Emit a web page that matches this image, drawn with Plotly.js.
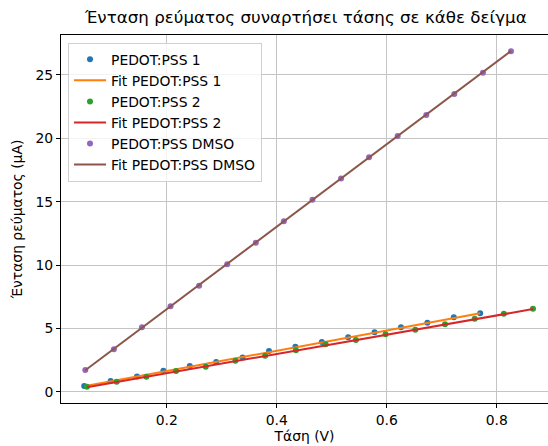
<!DOCTYPE html>
<html>
<head>
<meta charset="utf-8">
<script src="https://cdn.plot.ly/plotly-3.0.1.min.js"></script>
<style>html,body{margin:0;padding:0;background:#fff;}#chart{width:548px;height:446px;}</style>
</head>
<body>
<div id="chart"></div>
<script>
// Sample 1 (PEDOT:PSS 1)
const x1 = [0.050, 0.098, 0.146, 0.194, 0.242, 0.290, 0.338, 0.386, 0.434, 0.482, 0.530, 0.578, 0.626, 0.674, 0.722, 0.770];
const y1 = [0.45, 0.84, 1.21, 1.66, 2.03, 2.34, 2.71, 3.21, 3.55, 3.92, 4.29, 4.69, 5.08, 5.45, 5.87, 6.19];
// Sample 2 (PEDOT:PSS 2)
const x2 = [0.055, 0.109, 0.163, 0.217, 0.271, 0.325, 0.379, 0.435, 0.489, 0.544, 0.598, 0.652, 0.706, 0.760, 0.813, 0.866];
const y2 = [0.40, 0.79, 1.18, 1.63, 1.97, 2.45, 2.84, 3.27, 3.74, 4.08, 4.53, 4.89, 5.32, 5.76, 6.16, 6.55];
// Sample DMSO
const x3 = [0.052, 0.104, 0.155, 0.207, 0.259, 0.310, 0.362, 0.413, 0.465, 0.517, 0.568, 0.620, 0.672, 0.723, 0.775, 0.826];
const y3 = [1.71, 3.35, 5.08, 6.74, 8.37, 10.05, 11.75, 13.45, 15.15, 16.82, 18.50, 20.18, 21.84, 23.50, 25.18, 26.87];
// Fit line endpoints
const fitX1 = [0.050, 0.770], fitY1 = [0.43, 6.20];
const fitX2 = [0.055, 0.866], fitY2 = [0.36, 6.52];
const fitX3 = [0.052, 0.826], fitY3 = [1.70, 26.88];

const names = ["PEDOT:PSS 1", "Fit PEDOT:PSS 1", "PEDOT:PSS 2", "Fit PEDOT:PSS 2", "PEDOT:PSS DMSO", "Fit PEDOT:PSS DMSO"];
const xTicks = [0.2, 0.4, 0.6, 0.8];
const xTickText = ["0.2", "0.4", "0.6", "0.8"];
const yTicks = [0, 5, 10, 15, 20, 25];

const pts = (x, y, c, n) => ({x, y, name: n, type: 'scatter', mode: 'markers', marker: {color: c, size: 6}});
const ln = (x, y, c, n) => ({x, y, name: n, type: 'scatter', mode: 'lines', line: {color: c, width: 2}});

const data = [
  pts(x1, y1, '#1f77b4', names[0]),
  ln(fitX1, fitY1, '#ff7f0e', names[1]),
  pts(x2, y2, '#2ca02c', names[2]),
  ln(fitX2, fitY2, '#d62728', names[3]),
  pts(x3, y3, '#9467bd', names[4]),
  ln(fitX3, fitY3, '#8c564b', names[5])
];

const font = {family: 'DejaVu Sans', size: 13.9, color: '#000'};
const layout = {
  width: 548, height: 446,
  margin: {l: 61, r: 0, t: 35, b: 43},
  paper_bgcolor: '#fff', plot_bgcolor: '#fff',
  font: font,
  showlegend: true,
  title: {text: 'Ένταση ρεύματος συναρτήσει τάσης σε κάθε δείγμα', font: {family: 'DejaVu Sans', size: 16.7, color: '#000'}, x: 0.558, xanchor: 'center', y: 0.962, yanchor: 'middle'},
  xaxis: {
    range: [0.0078, 0.8933], tickvals: xTicks, ticktext: xTickText,
    showline: true, linecolor: '#000', linewidth: 1, mirror: true,
    ticks: 'outside', ticklen: 4, tickcolor: '#000',
    showgrid: true, gridcolor: '#c4c4c4', gridwidth: 1, zeroline: false,
    tickfont: font,
    title: {text: 'Τάση (V)', font: font, standoff: 4},
    automargin: false
  },
  yaxis: {
    range: [-0.89, 28.15], tickvals: yTicks,
    showline: true, linecolor: '#000', linewidth: 1, mirror: false,
    ticks: 'outside', ticklen: 4, tickcolor: '#000',
    showgrid: true, gridcolor: '#c4c4c4', gridwidth: 1, zeroline: false,
    tickfont: font,
    title: {text: 'Ένταση ρεύματος (μA)', font: font, standoff: 9},
    automargin: false
  },
  legend: {
    x: 0.0144, y: 0.979, xanchor: 'left', yanchor: 'top',
    bgcolor: 'rgba(255,255,255,0.8)', bordercolor: '#d0d0d0', borderwidth: 1,
    font: font, tracegroupgap: 0, itemwidth: 32
  }
};
Plotly.newPlot('chart', data, layout, {displayModeBar: false, staticPlot: true});
</script>
</body>
</html>
